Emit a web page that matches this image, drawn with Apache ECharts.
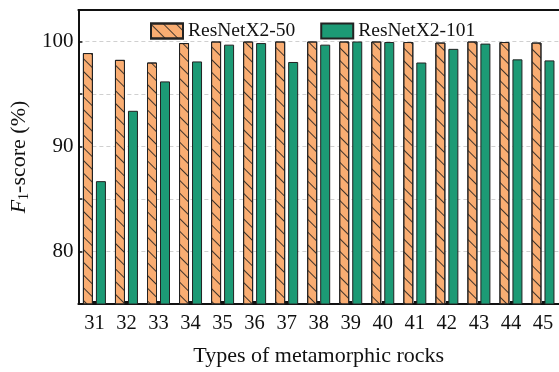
<!DOCTYPE html>
<html>
<head>
<meta charset="utf-8">
<script src="https://cdn.jsdelivr.net/npm/echarts@6/dist/echarts.min.js"></script>
<style>
  html, body { margin: 0; padding: 0; background: #fff; }
  #chart { width: 559px; height: 372px; }
</style>
</head>
<body>
<div id="chart"></div>
<script>
// Rock type IDs on the x axis
const rockTypes = ['31','32','33','34','35','36','37','38','39','40','41','42','43','44','45'];
// F1-score (%) for each model
const resnet50  = [98.9, 98.25, 98.0, 99.85, 100, 100, 100, 100, 100, 100, 99.95, 99.9, 100, 99.95, 99.9];
const resnet101 = [86.7, 93.4, 96.2, 98.1, 99.7, 99.85, 98.05, 99.7, 100, 99.95, 98.0, 99.3, 99.8, 98.3, 98.2];
const seriesNames = ['ResNetX2-50', 'ResNetX2-101'];

const serif = '"Liberation Serif", "Times New Roman", serif';

const chart = echarts.init(document.getElementById('chart'), null, { renderer: 'canvas' });

chart.setOption({
  animation: false,
  textStyle: { fontFamily: serif, color: '#111' },
  grid: { left: 76, top: 10, width: 485, bottom: 64 },
  legend: {
    top: 16, left: 145,
    icon: 'rect',
    itemWidth: 32, itemHeight: 15, itemGap: 25,
    textStyle: { fontFamily: serif, fontSize: 19.5, color: '#111' },
    data: seriesNames
  },
  xAxis: [
    {
      type: 'category',
      data: rockTypes,
      name: 'Types of metamorphic rocks',
      nameLocation: 'middle',
      nameGap: 41,
      nameTextStyle: { fontFamily: serif, fontSize: 22, color: '#111' },
      axisLine: { lineStyle: { color: '#111', width: 2 } },
      axisTick: { show: true, inside: true, length: 3, alignWithLabel: true, lineStyle: { color: '#111', width: 3 } },
      axisLabel: { fontFamily: serif, fontSize: 20.5, color: '#111', margin: 9 }
    },
    {
      // top frame line
      type: 'category',
      data: rockTypes,
      position: 'top',
      axisLine: { show: true, lineStyle: { color: '#111', width: 2 } },
      axisTick: { show: false },
      axisLabel: { show: false },
      splitLine: { show: false }
    }
  ],
  yAxis: {
    type: 'value',
    min: 75, max: 103, interval: 5,
    name: '{i|F}{sub|1}-score (%)',
    nameLocation: 'middle',
    nameGap: 46,
    nameRotate: 90,
    nameTextStyle: {
      fontFamily: serif, fontSize: 22, color: '#111',
      rich: {
        i: { fontFamily: serif, fontSize: 22, fontStyle: 'italic', color: '#111' },
        sub: { fontFamily: serif, fontSize: 14, color: '#111', padding: [10, 0, 0, 0] }
      }
    },
    axisLine: { show: true, lineStyle: { color: '#111', width: 2 } },
    axisTick: { show: true, inside: true, length: 4, lineStyle: { color: '#111', width: 1.5 } },
    axisLabel: {
      fontFamily: serif, fontSize: 21, color: '#111', margin: 5,
      formatter: v => (v % 10 === 0 && v <= 100) ? String(v) : ''
    },
    splitLine: {
      show: true, showMaxLine: false, showMinLine: false,
      lineStyle: { color: '#d0d0d0', type: [4, 3], width: 1 }
    }
  },
  series: [
    {
      name: seriesNames[0],
      type: 'bar',
      data: resnet50,
      barWidth: 10,
      barGap: '30%',
      itemStyle: {
        color: '#F9AD72',
        borderColor: '#222',
        borderWidth: 1,
        decal: {
          symbol: 'rect',
          color: 'rgba(30,30,30,0.85)',
          backgroundColor: null,
          dashArrayX: [1, 0],
          dashArrayY: [1, 8],
          rotation: Math.PI / 4
        }
      }
    },
    {
      name: seriesNames[1],
      type: 'bar',
      data: resnet101,
      barWidth: 10,
      itemStyle: { color: '#1C9A75', borderColor: '#222', borderWidth: 1 }
    }
  ]
});
</script>
</body>
</html>
